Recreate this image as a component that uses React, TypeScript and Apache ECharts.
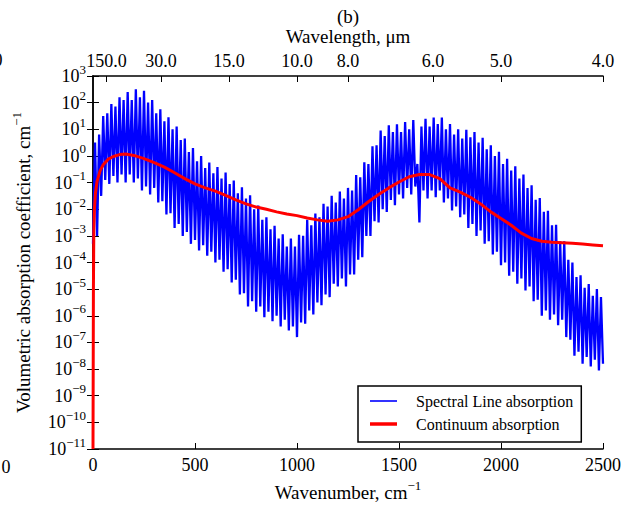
import React, { useEffect, useRef } from "react";
import * as echarts from "echarts";

const FONT = "Liberation Serif";

// Bottom axis: wavenumber, cm^-1
const wavenumberTicks = [0, 500, 1000, 1500, 2000, 2500];
// Top axis: wavelength, µm
const wavelengthTicks = [150, 30, 15, 10, 8, 6, 5, 4];
// Y axis decades (log10)
const yTickExponents = [-11, -10, -9, -8, -7, -6, -5, -4, -3, -2, -1, 0, 1, 2, 3];

// Spectral line absorption, log10 values. Lows sampled at lineStart + i*lineStep,
// highs half a step after each low.
const lineStart = 0;
const lineStep = 20;
const lineLows = [
  -3.3, -3.0, -1.5, -0.9, -1.05, -0.75, -1.0, -0.7, -1.0, -0.7,
  -1.0, -0.85, -1.3, -1.15, -1.45, -1.2, -1.75, -1.7, -2.2, -2.15,
  -2.7, -2.55, -3.0, -2.85, -3.3, -3.15, -3.55, -3.35, -3.75, -3.6,
  -4.0, -3.9, -4.35, -4.25, -4.75, -4.65, -5.2, -5.15, -5.65, -5.45,
  -5.85, -5.65, -6.05, -5.85, -6.2, -6.0, -6.4, -6.15, -6.55, -6.4,
  -6.8, -6.25, -6.3, -5.8, -5.95, -5.5, -5.6, -5.2, -5.3, -4.8,
  -4.9, -4.6, -4.9, -4.45, -4.45, -3.9, -3.8, -3.0, -3.0, -2.45,
  -2.5, -2.0, -2.1, -1.65, -1.85, -1.45, -1.6, -1.2, -1.45, -1.15,
  -2.5, -1.3, -1.6, -1.3, -1.55, -1.3, -1.75, -1.6, -2.05, -1.9,
  -2.3, -2.2, -2.7, -2.55, -3.0, -2.8, -3.3, -3.2, -3.7, -3.6,
  -4.1, -4.0, -4.5, -4.35, -4.8, -4.6, -5.05, -4.9, -5.45, -5.4,
  -6.0, -5.8, -6.15, -5.95, -6.35, -6.15, -6.8, -6.9, -7.5, -7.35,
  -7.8, -7.55, -7.9, -7.65, -8.05, -7.8,
];
const lineHighs = [
  0.5, 0.8, 1.5, 1.6, 1.95, 1.85, 2.2, 2.1, 2.4, 2.1,
  2.5, 2.2, 2.45, 2.0, 2.1, 1.6, 1.75, 1.3, 1.45, 1.0,
  1.1, 0.6, 0.65, 0.15, 0.3, -0.2, 0.0, -0.45, -0.25, -0.65,
  -0.42, -0.85, -0.62, -1.05, -0.92, -1.4, -1.18, -1.6, -1.48, -2.0,
  -1.86, -2.4, -2.3, -2.75, -2.62, -3.1, -2.94, -3.4, -3.1, -3.4,
  -2.96, -3.0, -2.4, -2.6, -2.16, -2.3, -1.8, -1.9, -1.5, -1.75,
  -1.34, -1.6, -1.2, -1.3, -0.72, -0.8, -0.24, -0.3, 0.36, 0.4,
  0.95, 0.75, 1.15, 0.9, 1.19, 0.9, 1.27, 1.0, 1.35, -0.3,
  1.1, 1.39, 1.1, 1.44, 1.2, 1.44, 1.0, 1.2, 0.8, 1.0,
  0.65, 0.98, 0.7, 0.9, 0.5, 0.68, 0.25, 0.4, 0.0, 0.16,
  -0.3, -0.11, -0.55, -0.39, -0.85, -0.7, -1.2, -1.1, -1.65, -1.58,
  -2.1, -2.06, -2.6, -2.58, -3.2, -3.2, -3.9, -4.0, -4.55, -4.48,
  -4.95, -4.81, -5.25, -5.0, -5.3,
];

// Continuum absorption, log10 values
const continuumWavenumbers = [
  0, 2, 4, 7, 12, 20, 35, 50, 75, 100, 130, 160, 200, 250, 300, 350, 400, 450,
  500, 550, 600, 650, 700, 750, 800, 850, 900, 950, 1000, 1050, 1100, 1150,
  1200, 1250, 1300, 1350, 1400, 1450, 1500, 1550, 1600, 1650, 1700, 1750,
  1800, 1850, 1900, 1950, 2000, 2050, 2100, 2150, 2200, 2250, 2300, 2350,
  2400, 2450, 2500,
];
const continuumExponents = [
  -11, -5, -2.8, -2.0, -1.4, -0.95, -0.55, -0.33, -0.12, -0.02, 0.05, 0.07,
  0.02, -0.1, -0.25, -0.42, -0.63, -0.85, -1.05, -1.2, -1.32, -1.48, -1.65,
  -1.8, -1.92, -2.0, -2.1, -2.18, -2.24, -2.33, -2.4, -2.45, -2.4, -2.28,
  -2.02, -1.72, -1.45, -1.2, -0.98, -0.78, -0.7, -0.7, -0.85, -1.2, -1.36,
  -1.55, -1.8, -2.1, -2.35, -2.6, -2.9, -3.1, -3.2, -3.24, -3.26, -3.28,
  -3.31, -3.34, -3.37,
];

const seriesNames = ["Spectral Line absorption", "Continuum absorption"];

const supText = (n: number) => (n < 0 ? "\u2212" + Math.abs(n) : String(n));

export default function App() {
  const ref = useRef<HTMLDivElement>(null);

  useEffect(() => {
    if (!ref.current) return;
    const chart = echarts.init(ref.current, undefined, { renderer: "svg" });

    const lineData: [number, number][] = [];
    for (let i = 0; i < lineLows.length; i++) {
      lineData.push([lineStart + i * lineStep, Math.pow(10, lineLows[i])]);
      if (i < lineHighs.length) {
        lineData.push([lineStart + i * lineStep + lineStep / 2, Math.pow(10, lineHighs[i])]);
      }
    }
    const contData = continuumWavenumbers.map((w, i) => [w, Math.pow(10, continuumExponents[i])]);

    const topPositions = wavelengthTicks.map((l) => 10000 / l);
    const topLabel = (v: number) => {
      let best = 0;
      topPositions.forEach((p, i) => {
        if (Math.abs(p - v) < Math.abs(topPositions[best] - v)) best = i;
      });
      return wavelengthTicks[best].toFixed(1);
    };

    const axisColor = "#000";
    const lineStyle = { color: axisColor, width: 1.5 };
    const richLabel = {
      b: { fontSize: 18, fontFamily: FONT, color: "#000" },
      e: { fontSize: 13, fontFamily: FONT, color: "#000", padding: [0, 0, 14, 0] },
    };
    const richName = {
      t: { fontSize: 19, fontFamily: FONT, color: "#000" },
      s: { fontSize: 13, fontFamily: FONT, color: "#000", padding: [0, 0, 14, 0] },
    };

    chart.setOption({
      animation: false,
      backgroundColor: "#fff",
      grid: { left: 93, right: 37, top: 76, bottom: 56, containLabel: false },
      graphic: [
        {
          type: "text",
          x: 348,
          y: 16,
          style: { text: "(b)", fontSize: 19, fontFamily: FONT, fill: "#000", align: "center", verticalAlign: "middle" },
        },
        {
          type: "text",
          x: -2,
          y: 60,
          style: { text: "0", fontSize: 18, fontFamily: FONT, fill: "#000", align: "center", verticalAlign: "middle" },
        },
        {
          type: "text",
          x: 6,
          y: 467,
          style: { text: "0", fontSize: 18, fontFamily: FONT, fill: "#000", align: "center", verticalAlign: "middle" },
        },
      ],
      legend: {
        data: [
          { name: seriesNames[0], icon: "path://M0,0H27V1.6H0Z", itemStyle: { color: "#0000ff" } },
          { name: seriesNames[1], icon: "path://M0,0H27V3.5H0Z", itemStyle: { color: "#ff0000" } },
        ],
        orient: "vertical",
        left: 358,
        top: 386,
        padding: [7, 8, 10, 12],
        itemGap: 7,
        itemWidth: 27,
        itemHeight: 12,
        backgroundColor: "#fff",
        borderColor: "#000",
        borderWidth: 1.5,
        borderRadius: 0,
        textStyle: { fontSize: 16, fontFamily: FONT, color: "#000", padding: [0, 0, 0, 14] },
      },
      xAxis: [
        {
          type: "value",
          position: "bottom",
          min: wavenumberTicks[0],
          max: wavenumberTicks[wavenumberTicks.length - 1],
          interval: 500,
          axisLine: { show: true, lineStyle },
          axisTick: { show: true, inside: true, length: 6, lineStyle: { color: axisColor, width: 1 } },
          axisLabel: {
            fontSize: 18,
            fontFamily: FONT,
            color: "#000",
            margin: 7,
            formatter: (v: number) => String(v),
          },
          splitLine: { show: false },
          name: "{t|Wavenumber, cm}{s|\u22121}",
          nameLocation: "middle",
          nameGap: 30,
          nameTextStyle: { rich: richName },
        },
        {
          type: "value",
          position: "top",
          min: 0,
          max: 2500,
          axisLine: { show: true, lineStyle },
          axisTick: {
            show: true,
            inside: true,
            length: 6,
            customValues: topPositions,
            lineStyle: { color: axisColor, width: 1 },
          },
          axisLabel: {
            customValues: topPositions,
            formatter: (v: number) => topLabel(v),
            fontSize: 18,
            fontFamily: FONT,
            color: "#000",
            margin: 6,
          },
          splitLine: { show: false },
          name: "Wavelength, \u03bcm",
          nameLocation: "middle",
          nameGap: 30,
          nameTextStyle: { fontSize: 19, fontFamily: FONT, color: "#000" },
        },
      ],
      yAxis: [
        {
          type: "log",
          logBase: 10,
          min: Math.pow(10, yTickExponents[0]),
          max: Math.pow(10, yTickExponents[yTickExponents.length - 1]),
          interval: 1,
          position: "left",
          axisLine: { show: true, lineStyle },
          axisTick: { show: true, inside: true, length: 6, lineStyle: { color: axisColor, width: 1 } },
          axisLabel: {
            margin: 7,
            formatter: (v: number) => `{b|10}{e|${supText(Math.round(Math.log10(v)))}}`,
            rich: richLabel,
          },
          splitLine: { show: false },
          minorTick: { show: false },
          name: "{t|Volumetric absorption coefficient, cm}{s|\u22121}",
          nameLocation: "middle",
          nameGap: 56,
          nameTextStyle: { rich: richName },
        },
        {
          type: "log",
          logBase: 10,
          min: Math.pow(10, yTickExponents[0]),
          max: Math.pow(10, yTickExponents[yTickExponents.length - 1]),
          interval: 1,
          position: "right",
          axisLine: { show: true, lineStyle },
          axisTick: { show: true, inside: true, length: 6, lineStyle: { color: axisColor, width: 1 } },
          axisLabel: { show: false },
          splitLine: { show: false },
        },
      ],
      series: [
        {
          name: seriesNames[0],
          type: "line",
          data: lineData,
          xAxisIndex: 0,
          yAxisIndex: 0,
          symbol: "none",
          showSymbol: false,
          lineStyle: { color: "#0000ff", width: 2.3 },
          itemStyle: { color: "#0000ff" },
          clip: true,
          z: 2,
        },
        {
          name: seriesNames[1],
          type: "line",
          data: contData,
          xAxisIndex: 0,
          yAxisIndex: 0,
          symbol: "none",
          showSymbol: false,
          lineStyle: { color: "#ff0000", width: 3 },
          itemStyle: { color: "#ff0000" },
          clip: true,
          z: 3,
        },
      ],
    });

    return () => chart.dispose();
  }, []);

  return (
    <div
      ref={ref}
      style={{ position: "absolute", left: 0, top: 0, width: 640, height: 507, background: "#fff" }}
    />
  );
}
